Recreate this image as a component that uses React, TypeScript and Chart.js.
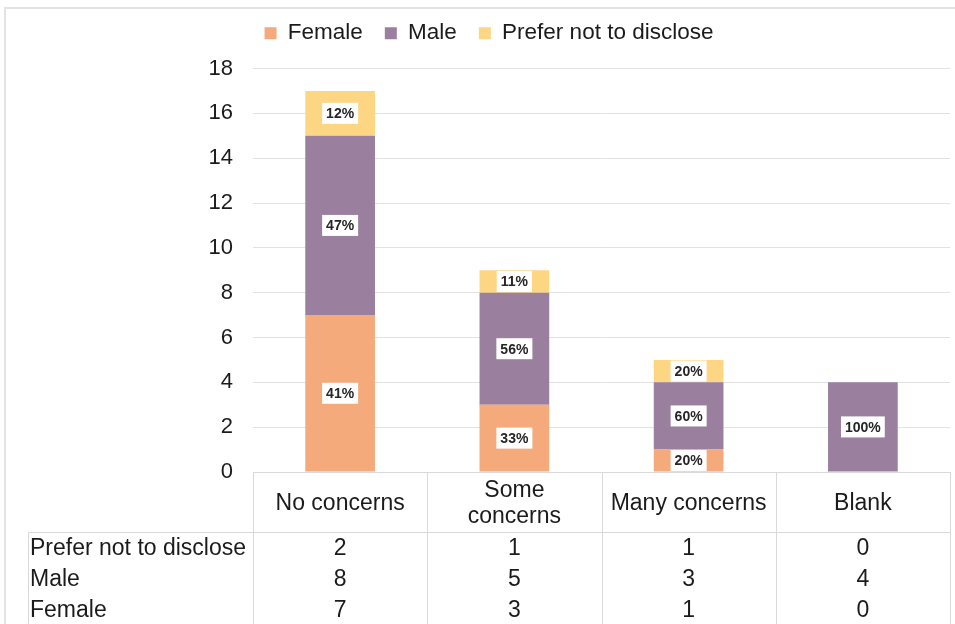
import React, { useEffect, useRef } from 'react';
import { Chart, registerables } from 'chart.js';

Chart.register(...registerables);

const categories = ['No concerns', 'Some concerns', 'Many concerns', 'Blank'];
const headerLines = [['No concerns'], ['Some', 'concerns'], ['Many concerns'], ['Blank']];
const seriesNames = ['Female', 'Male', 'Prefer not to disclose'];
const female = [7, 3, 1, 0];
const male = [8, 5, 3, 4];
const preferNot = [2, 1, 1, 0];
const yMin = 0;
const yMax = 18;
const yStep = 2;
const colors = ['#F5AA7B', '#9A7F9F', '#FDD683'];
const tableRowLabels = ['Prefer not to disclose', 'Male', 'Female'];
const tableRowValues = [preferNot, male, female];

const FONT = "'Liberation Sans', Arial, sans-serif";
const TEXT = '#1b1b1b';
const LINE = '#d9d9d9';

const labelPlugin = {
  id: 'segLabels',
  afterDatasetsDraw(chart: any) {
    const ctx = chart.ctx;
    const nCat = categories.length;
    const totals: number[] = [];
    for (let i = 0; i < nCat; i++) {
      let t = 0;
      chart.data.datasets.forEach((d: any) => (t += d.data[i]));
      totals.push(t);
    }
    ctx.save();
    ctx.font = `bold 14px ${FONT}`;
    ctx.textAlign = 'center';
    ctx.textBaseline = 'middle';
    chart.data.datasets.forEach((d: any, di: number) => {
      const meta = chart.getDatasetMeta(di);
      meta.data.forEach((el: any, i: number) => {
        const v = d.data[i];
        if (!v) return;
        const { x, y, base } = el.getProps(['x', 'y', 'base'], true);
        const cy = (y + base) / 2;
        const txt = Math.round((v / totals[i]) * 100) + '%';
        const w = ctx.measureText(txt).width + 8;
        const h = 21;
        ctx.fillStyle = '#ffffff';
        ctx.fillRect(x - w / 2, cy - h / 2, w, h);
        ctx.fillStyle = '#262626';
        ctx.fillText(txt, x, cy + 1);
      });
    });
    ctx.restore();
  },
};

const tablePlugin = {
  id: 'dataTable',
  afterDraw(chart: any) {
    const ctx = chart.ctx;
    const area = chart.chartArea;
    const xs = chart.scales.x;
    const n = categories.length;
    const colW = (area.right - area.left) / n;
    const top = area.bottom;
    const headerBottom = top + 60;
    const rowH = 31;
    const bottom = chart.height;
    const tableLeft = 28;
    ctx.save();
    // outer frame
    ctx.strokeStyle = '#e3e3e3';
    ctx.lineWidth = 2;
    ctx.beginPath();
    ctx.moveTo(5, chart.height);
    ctx.lineTo(5, 8);
    ctx.lineTo(chart.width, 8);
    ctx.stroke();

    ctx.strokeStyle = LINE;
    ctx.lineWidth = 1;
    ctx.beginPath();
    ctx.moveTo(area.left, top + 0.5);
    ctx.lineTo(area.right, top + 0.5);
    ctx.moveTo(tableLeft, headerBottom + 0.5);
    ctx.lineTo(area.right, headerBottom + 0.5);
    ctx.moveTo(tableLeft + 0.5, headerBottom);
    ctx.lineTo(tableLeft + 0.5, bottom);
    for (let i = 0; i <= n; i++) {
      const cx = Math.round(area.left + i * colW) + 0.5;
      ctx.moveTo(cx, top);
      ctx.lineTo(cx, bottom);
    }
    ctx.stroke();

    ctx.fillStyle = TEXT;
    ctx.font = `23px ${FONT}`;
    ctx.textBaseline = 'middle';
    ctx.textAlign = 'center';
    for (let i = 0; i < n; i++) {
      const cx = xs.getPixelForValue(i);
      const lines = headerLines[i];
      const mid = (top + headerBottom) / 2 + 2;
      const lh = 26;
      lines.forEach((ln, li) => {
        ctx.fillText(ln, cx, mid + (li - (lines.length - 1) / 2) * lh);
      });
      tableRowValues.forEach((vals, ri) => {
        ctx.fillText(String(vals[i]), cx, headerBottom + rowH * ri + rowH / 2 + 1);
      });
    }
    ctx.textAlign = 'left';
    tableRowLabels.forEach((lab, ri) => {
      ctx.fillText(lab, 30, headerBottom + rowH * ri + rowH / 2 + 1);
    });
    ctx.restore();
  },
};

const legendSpacer = {
  id: 'legendSpacer',
  beforeInit(chart: any) {
    const orig = chart.legend.fit;
    chart.legend.fit = function () {
      orig.bind(chart.legend)();
      this.height += 14;
    };
  },
};

export default function App() {
  const ref = useRef<HTMLCanvasElement | null>(null);
  useEffect(() => {
    if (!ref.current) return;
    const datasetsData = [female, male, preferNot];
    const chart = new Chart(ref.current, {
      type: 'bar',
      data: {
        labels: categories,
        datasets: datasetsData.map((d, i) => ({
          label: seriesNames[i],
          data: d,
          backgroundColor: colors[i],
          borderWidth: 0,
          categoryPercentage: 1,
          barPercentage: 0.4,
        })),
      },
      options: {
        responsive: false,
        animation: false,
        devicePixelRatio: 1,
        layout: { padding: { top: 0, left: 28, right: 5, bottom: 152 } },
        plugins: {
          legend: {
            position: 'top',
            labels: {
              boxWidth: 12,
              boxHeight: 12,
              padding: 22,
              color: TEXT,
              font: { family: FONT, size: 22.5 },
            },
          },
          tooltip: { enabled: false },
        },
        scales: {
          x: {
            stacked: true,
            display: false,
          },
          y: {
            stacked: true,
            min: yMin,
            max: yMax,
            ticks: {
              stepSize: yStep,
              padding: 20,
              color: TEXT,
              font: { family: FONT, size: 22 },
            },
            grid: { color: '#e2e2e2', drawTicks: false },
            border: { display: false },
            afterFit(scale: any) {
              scale.width = 225;
            },
          },
        },
      },
      plugins: [labelPlugin, tablePlugin, legendSpacer],
    } as any);
    return () => chart.destroy();
  }, []);
  return (
    <div style={{ position: 'fixed', left: 0, top: 0, width: 955, height: 624, background: '#fff' }}>
      <canvas ref={ref} width={955} height={624} style={{ width: 955, height: 624 }} />
    </div>
  );
}
